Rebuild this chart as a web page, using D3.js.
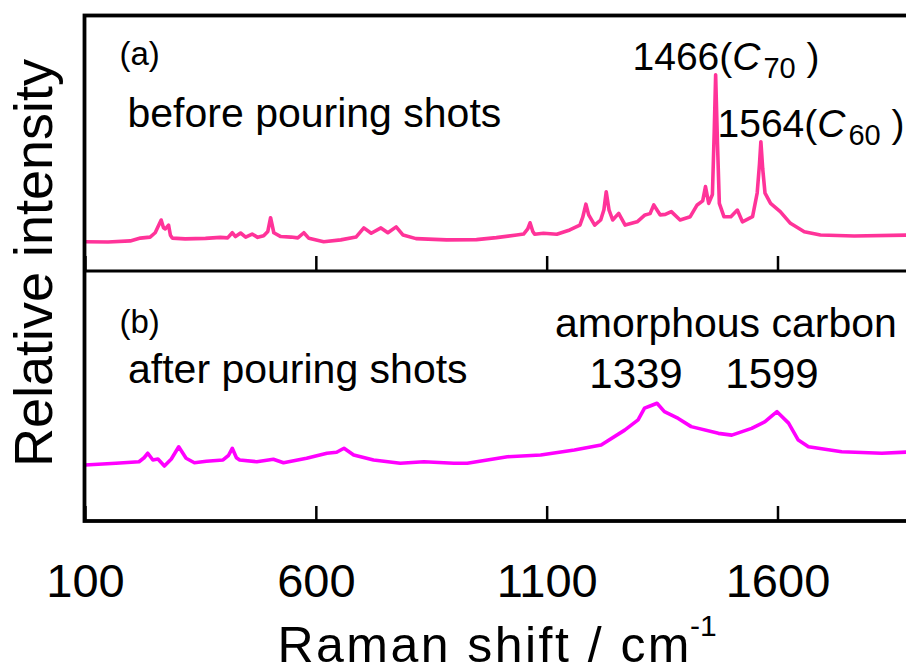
<!DOCTYPE html>
<html>
<head>
<meta charset="utf-8">
<script src="https://cdn.jsdelivr.net/npm/d3@7"></script>
<style>
  html, body { margin: 0; padding: 0; background: #fff; }
  svg { display: block; }
  text { font-family: "Liberation Sans", Arial, sans-serif; fill: #000; }
</style>
</head>
<body>
<svg id="chart" width="906" height="672"></svg>
<script>
// Raman spectra of the sample before (a) and after (b) pouring shots.
// Raman shift in cm^-1, intensity in relative units (0-100 per panel).
const shiftA = [100, 150, 198, 220, 241, 252, 265, 270, 274, 281, 285, 289, 317, 361, 393, 409,
  419, 426, 437, 448, 462, 474, 487, 496, 502, 509, 524, 546, 561, 574, 585, 617, 654, 687,
  704, 720, 741, 756, 774, 789, 817, 883, 948, 991, 1035, 1050, 1059, 1064, 1070, 1074, 1093,
  1122, 1150, 1172, 1178, 1185, 1191, 1204, 1217, 1224, 1229, 1235, 1243, 1256, 1270, 1296,
  1313, 1324, 1332, 1346, 1357, 1370, 1389, 1411, 1426, 1438, 1444, 1451, 1459, 1463, 1466,
  1470, 1474, 1484, 1499, 1513, 1524, 1546, 1556, 1561, 1564, 1568, 1573, 1585, 1606, 1628,
  1658, 1693, 1766, 1893, 1900];
const intensityA = [11.5, 11.4, 11.8, 12.9, 13.3, 15.0, 20.0, 17.0, 16.5, 18.0, 14.0, 12.9, 12.6,
  12.8, 13.2, 13.0, 15.0, 13.5, 14.9, 13.3, 14.5, 13.2, 13.8, 15.5, 20.9, 15.0, 13.5, 13.3, 13.0,
  15.0, 12.8, 11.5, 12.2, 13.3, 16.9, 14.8, 16.9, 15.0, 17.3, 14.1, 12.7, 12.2, 12.3, 13.1, 14.1,
  14.5, 16.5, 18.9, 15.5, 14.4, 14.8, 14.4, 16.1, 18.0, 21.0, 26.2, 22.0, 18.0, 20.0, 24.0, 31.1,
  24.0, 20.0, 22.6, 18.0, 19.3, 22.0, 22.5, 25.9, 22.0, 22.2, 23.3, 20.0, 21.3, 25.9, 27.5, 33.1,
  26.5, 30.0, 55.0, 76.9, 50.0, 26.5, 21.3, 21.3, 23.9, 19.3, 21.3, 30.6, 42.0, 50.7, 40.0, 30.5,
  26.5, 23.3, 18.7, 15.4, 14.1, 13.7, 14.1, 14.1];

const shiftB = [100, 167, 217, 228, 236, 247, 258, 272, 287, 303, 319, 337, 363, 399, 411, 419,
  428, 435, 472, 508, 530, 580, 624, 645, 661, 682, 725, 783, 834, 899, 928, 1015, 1087, 1160,
  1218, 1269, 1298, 1312, 1324, 1339, 1355, 1385, 1413, 1472, 1501, 1544, 1573, 1589, 1599,
  1624, 1645, 1667, 1739, 1826, 1892, 1900];
const intensityB = [22.1, 22.8, 23.4, 25.0, 26.8, 24.1, 24.5, 21.7, 24.5, 29.4, 24.8, 23.0, 23.6,
  24.1, 26.0, 28.8, 25.0, 24.1, 23.4, 24.4, 23.0, 24.8, 26.8, 27.2, 28.8, 26.1, 24.1, 22.8, 23.4,
  22.8, 22.8, 25.4, 26.1, 28.1, 30.1, 36.1, 40.2, 44.9, 45.8, 46.9, 43.5, 40.8, 37.5, 34.8, 34.1,
  36.8, 39.5, 42.0, 43.5, 38.9, 32.1, 29.4, 27.4, 26.8, 27.4, 27.4];

const xTicks = [100, 600, 1100, 1600];
const xDomain = [100, 1900];

const svg = d3.select("#chart");

// Plot frame geometry
const frameLeft = 84.5, frameTop = 15.5, frameMid = 271, frameBottom = 521;
const frameRight = 916;

const x = d3.scaleLinear().domain(xDomain).range([85, frameRight]);
const yA = d3.scaleLinear().domain([0, 100]).range([271, 16]);
const yB = d3.scaleLinear().domain([0, 100]).range([520, 271]);

const defs = svg.append("defs");
defs.append("clipPath").attr("id", "clipA")
  .append("rect").attr("x", frameLeft).attr("y", frameTop)
  .attr("width", frameRight - frameLeft).attr("height", frameMid - frameTop);
defs.append("clipPath").attr("id", "clipB")
  .append("rect").attr("x", frameLeft).attr("y", frameMid)
  .attr("width", frameRight - frameLeft).attr("height", frameBottom - frameMid);

// Spectra
const lineA = d3.line().x(i => x(shiftA[i])).y(i => yA(intensityA[i]));
const lineB = d3.line().x(i => x(shiftB[i])).y(i => yB(intensityB[i]));

svg.append("path")
  .attr("clip-path", "url(#clipA)")
  .attr("d", lineA(d3.range(shiftA.length)))
  .attr("fill", "none")
  .attr("stroke", "#ff3399")
  .attr("stroke-width", 3.6)
  .attr("stroke-linejoin", "round");

svg.append("path")
  .attr("clip-path", "url(#clipB)")
  .attr("d", lineB(d3.range(shiftB.length)))
  .attr("fill", "none")
  .attr("stroke", "#ff00ff")
  .attr("stroke-width", 3.6)
  .attr("stroke-linejoin", "round");

// Inward ticks on the panel divider (no labels)
const axisMid = d3.axisBottom(x).tickValues(xTicks).tickSizeInner(-15).tickSizeOuter(0).tickFormat("");
const gMid = svg.append("g").attr("transform", `translate(0,${frameMid})`).call(axisMid);
gMid.select(".domain").remove();
gMid.selectAll(".tick line").attr("stroke", "#000").attr("stroke-width", 2.5);

// Bottom axis with labels
const axisBot = d3.axisBottom(x).tickValues(xTicks).tickSizeInner(-15).tickSizeOuter(0)
  .tickPadding(42.5).tickFormat(d3.format("d"));
const gBot = svg.append("g").attr("transform", `translate(0,${frameBottom})`).call(axisBot);
gBot.select(".domain").remove();
gBot.selectAll(".tick line").attr("stroke", "#000").attr("stroke-width", 2.5);
gBot.selectAll(".tick text")
  .attr("font-family", "Liberation Sans, Arial, sans-serif")
  .attr("font-size", 47)
  .attr("fill", "#000");

// Frame and divider
svg.append("rect")
  .attr("x", frameLeft).attr("y", frameTop)
  .attr("width", frameRight + 20 - frameLeft).attr("height", frameBottom - frameTop)
  .attr("fill", "none").attr("stroke", "#000").attr("stroke-width", 3.8);
svg.append("line")
  .attr("x1", frameLeft).attr("x2", frameRight + 20)
  .attr("y1", frameMid).attr("y2", frameMid)
  .attr("stroke", "#000").attr("stroke-width", 3.2);

// Panel labels
svg.append("text").attr("x", 119.5).attr("y", 64.5).attr("font-size", 33).text("(a)");
svg.append("text").attr("x", 127.5).attr("y", 127).attr("font-size", 41).text("before pouring shots");
svg.append("text").attr("x", 119.5).attr("y", 333).attr("font-size", 33).text("(b)");
svg.append("text").attr("x", 128).attr("y", 383).attr("font-size", 41).text("after pouring shots");

// Peak annotations, panel (a)
function fullereneLabel(xPos, yPos, shift, sub) {
  const t = svg.append("text").attr("x", xPos).attr("y", yPos).attr("font-size", 39);
  t.append("tspan").text(shift + "(");
  t.append("tspan").attr("font-style", "italic").text("C");
  t.append("tspan").attr("font-size", 29).attr("dy", 8).attr("dx", 3).text(sub);
  t.append("tspan").attr("dy", -8).text("\u00a0)");
}
fullereneLabel(632.5, 70, "1466", "70");
fullereneLabel(717.5, 137, "1564", "60");

// Peak annotations, panel (b)
svg.append("text").attr("x", 555).attr("y", 337).attr("font-size", 41).text("amorphous carbon");
svg.append("text").attr("x", 636).attr("y", 388).attr("font-size", 42)
  .attr("text-anchor", "middle").text("1339");
svg.append("text").attr("x", 772).attr("y", 388).attr("font-size", 42)
  .attr("text-anchor", "middle").text("1599");

// Axis titles
svg.append("text")
  .attr("x", 277.5).attr("y", 662)
  .attr("font-size", 50)
  .attr("textLength", 412).attr("lengthAdjust", "spacing")
  .text("Raman shift / cm");
svg.append("text")
  .attr("x", 690).attr("y", 636)
  .attr("font-size", 30)
  .text("-1");

svg.append("text")
  .attr("transform", "translate(51.5,263) rotate(-90)")
  .attr("text-anchor", "middle")
  .attr("font-size", 54)
  .text("Relative intensity");
</script>
</body>
</html>
